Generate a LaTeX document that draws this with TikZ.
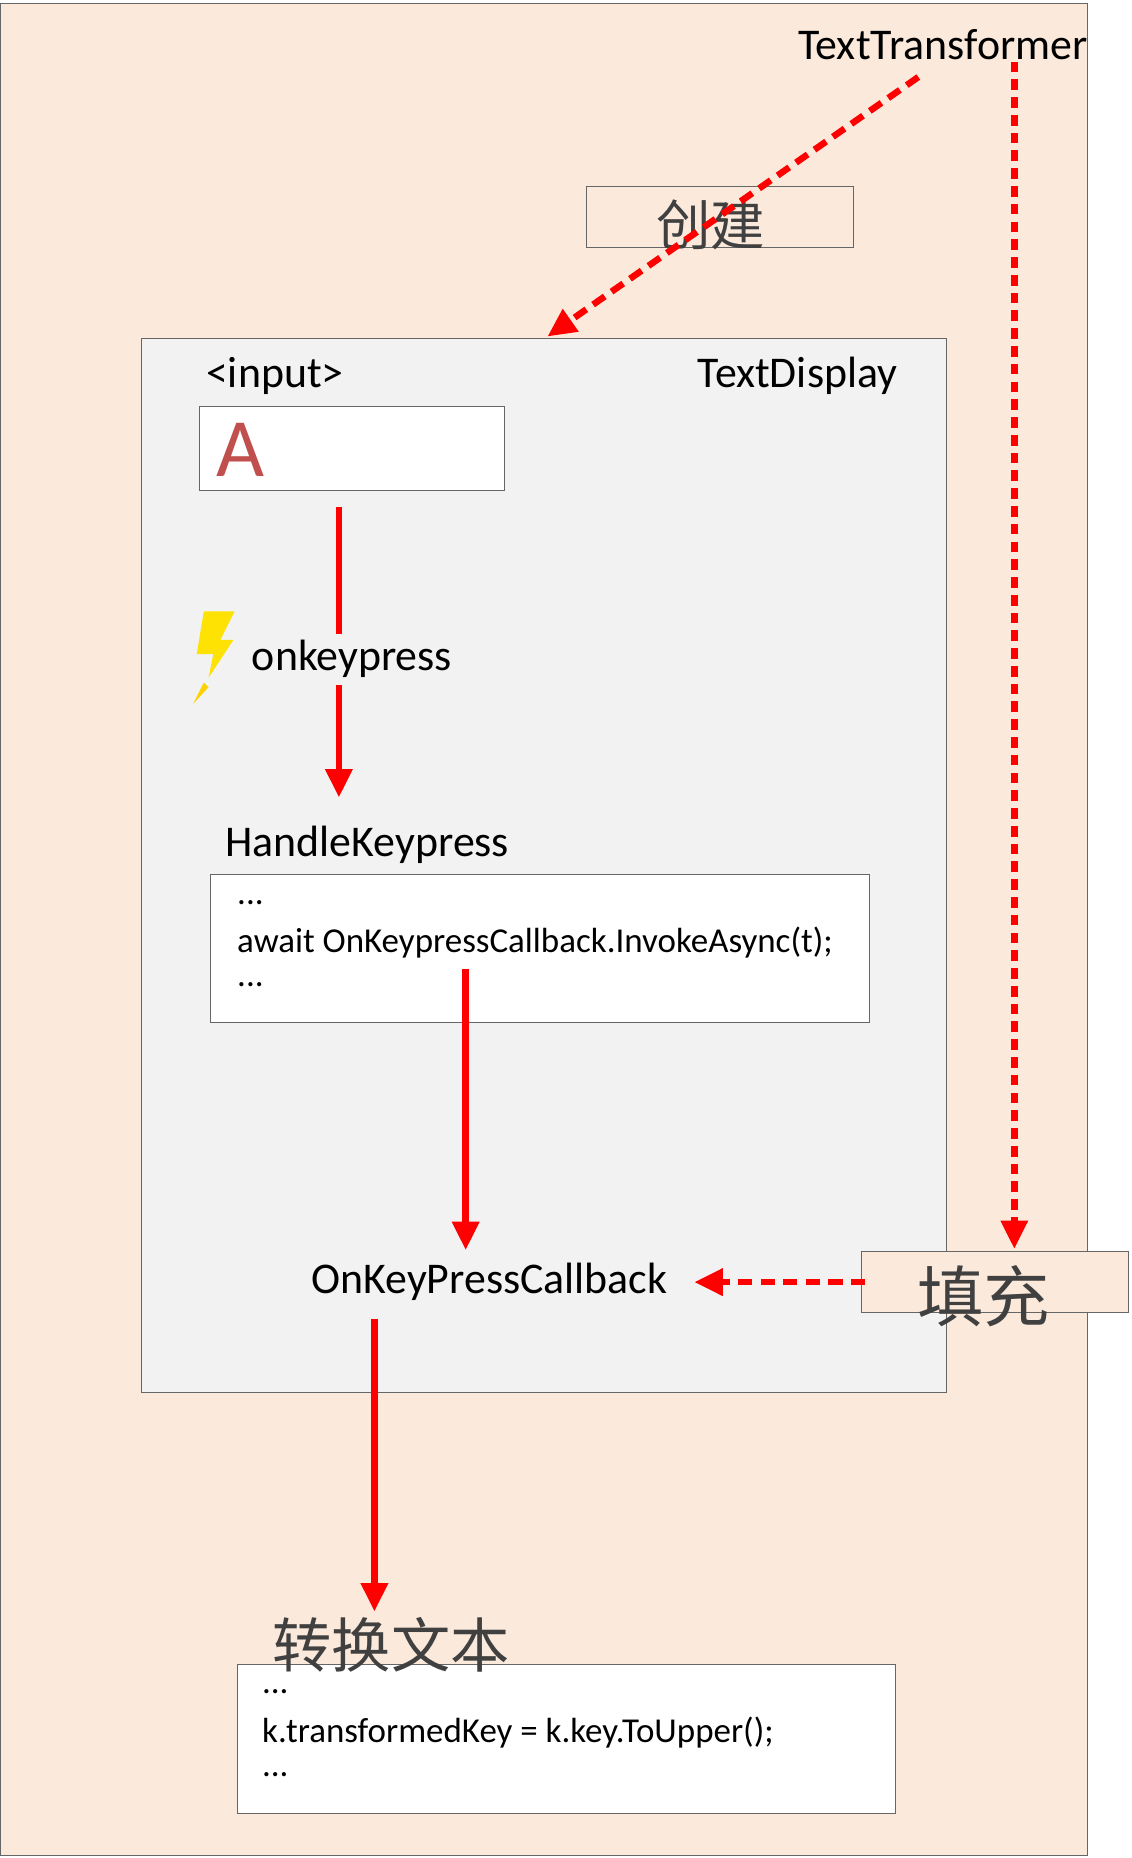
\documentclass[tikz,border=0pt]{standalone}
\usepackage{fontspec}
\setmainfont{Carlito}
\newfontfamily\cjk{Noto Sans CJK SC}
\usetikzlibrary{arrows.meta}
\definecolor{peach}{HTML}{FBE9DB}
\definecolor{panel}{HTML}{F2F2F2}
\definecolor{ared}{HTML}{FF0000}
\definecolor{letter}{HTML}{C0504D}
\definecolor{cjkgray}{HTML}{404040}
\tikzset{
  frame/.style={draw=black!60, line width=0.8pt},
  lbl/.style={inner sep=0pt, font=\fontsize{37}{42}\selectfont},
  code/.style={inner sep=0pt, anchor=west, font=\fontsize{29.5}{34}\selectfont},
  redarrow/.style={draw=ared, line width=5.5pt, -{Triangle[length=24pt,width=22pt]}},
  reddash/.style={redarrow, dash pattern=on 12pt off 7pt},
}
\begin{document}
\begin{tikzpicture}[x=1pt,y=-1pt]
\useasboundingbox (0,0) rectangle (955,1568);
\fill[white] (0,0) rectangle (955,1568);
\draw[frame, fill=peach] (0,3) rectangle (918,1566);
\node[lbl, anchor=east] (tt) at (918,38) {TextTransformer};
\coordinate (ttd) at (775,65);
\coordinate (ttv) at (856,52);
\node[frame, fill=peach, minimum width=225pt, minimum height=52pt, inner sep=0pt] (cj) at (607.5,183) {};
\node[inner sep=0pt, font=\cjk\fontsize{46}{50}\selectfont, text=cjkgray] (cjt) at (600,190) {创建};
\draw[frame, fill=panel] (119,286) rectangle (799,1175);
\coordinate (tdtop) at (462,284);
\node[lbl] (inp) at (232,317) {<input>};
\node[lbl] (td) at (673,317) {TextDisplay};
\draw[frame, fill=white] (168,343) rectangle (426,414);
\node[inner sep=0pt, text=letter, font=\fontsize{70}{72}\selectfont] (A) at (203,380) {A};
\coordinate (a1) at (286,428);
\coordinate (a2) at (286,673);
\draw[redarrow] (a1) -- (a2);
\fill[panel] (200,535) rectangle (395,578);
\node[lbl] (okp) at (297,556) {onkeypress};
\fill[yellow!85!orange] (172,516) -- (198,516) -- (186,540) -- (197,540) -- (176,572) -- (180,552) -- (166,552) -- cycle;
\fill[yellow!70!orange] (172,576) -- (176,580) -- (163,594) -- cycle;
\node[lbl] (hk) at (310,713) {HandleKeypress};
\draw[frame, fill=white] (178,738) rectangle (734,863);
\node[code] (c1) at (200,762) {...};
\node[code] (c2) at (200,795) {await OnKeypressCallback.InvokeAsync(t);};
\node[code] (c3) at (200,831) {...};
\coordinate (b1) at (393,818);
\coordinate (b2) at (393,1055);
\draw[redarrow] (b1) -- (b2);
\node[lbl] (okc) at (413,1082) {OnKeyPressCallback};
\node[frame, fill=peach, minimum width=225pt, minimum height=52pt, inner sep=0pt] (tc) at (839.5,1082) {};
\node[inner sep=0pt, font=\cjk\fontsize{56}{60}\selectfont, text=cjkgray] (tct) at (830,1094) {填充};
\coordinate (tcl) at (730,1082);
\coordinate (okcr) at (586,1082);
\coordinate (tctop) at (856,1054);
\draw[reddash] (tcl) -- (okcr);
\draw[reddash, dash pattern=on 9pt off 6pt] (ttv) -- (tctop);
\draw[reddash] (ttd) -- (tdtop);
\coordinate (d1) at (316,1113);
\coordinate (d2) at (316,1360);
\draw[redarrow] (d1) -- (d2);
\draw[frame, fill=white] (200,1405) rectangle (756,1530);
\node[inner sep=0pt, font=\cjk\fontsize{50}{54}\selectfont, text=cjkgray] (zh) at (330,1388) {转换文本};
\node[code] (e1) at (221,1428) {...};
\node[code] (e2) at (221,1462) {k.transformedKey = k.key.ToUpper();};
\node[code] (e3) at (221,1498) {...};
\end{tikzpicture}
\end{document}
